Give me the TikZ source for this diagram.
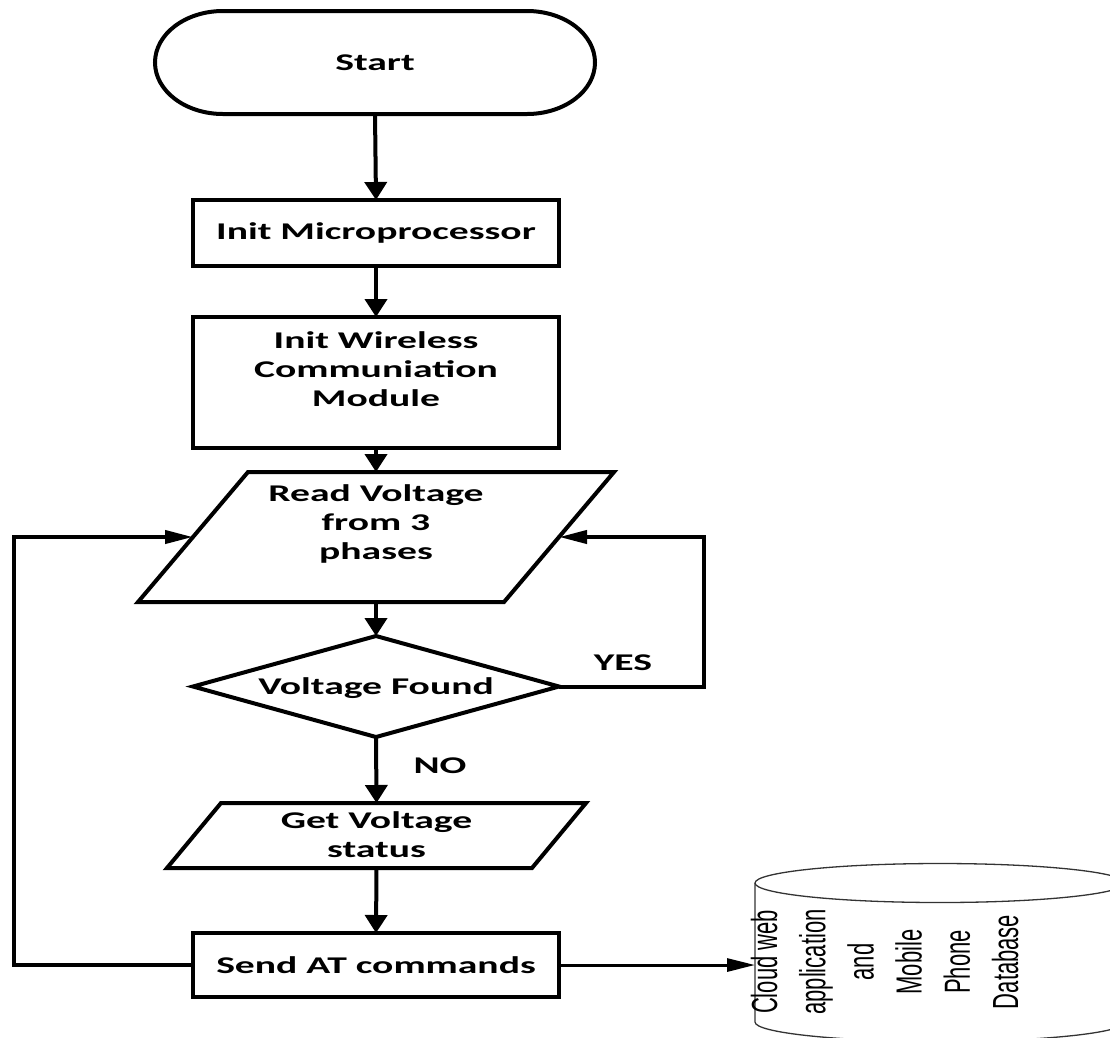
\documentclass[tikz,border=0pt]{standalone}
\usepackage{fontspec}
\setmainfont{Carlito}
\newfontfamily\dbfont{Liberation Sans}
\usepackage{graphicx}
\usetikzlibrary{shapes.geometric,arrows.meta}
\newcommand{\sx}[1]{\scalebox{1.65}[1]{#1}}
\newcommand{\mlines}[1]{\sx{\begin{tabular}{@{}c@{}}#1\end{tabular}}}
\begin{document}
\begin{tikzpicture}[x=1pt,y=-1pt,
  every node/.style={font=\bfseries\fontsize{24}{29}\selectfont, inner sep=0pt, outer sep=0pt},
  ln/.style={line width=4pt},
  box/.style={draw, ln, rectangle, minimum width=366pt},
  dec/.style={draw, ln, diamond, aspect=3.6, minimum width=366pt, minimum height=101pt},
  varr/.style={ln, -{Triangle[length=18pt,width=22pt]}},
  harr/.style={ln, -{Triangle[length=28pt,width=13pt]}},
  dbl/.style={line width=1.3pt, draw=black!80}]
\useasboundingbox (0,0) rectangle (1110,1037);

% Start terminator
\node[minimum width=440pt, minimum height=103pt] (start) at (375,62.5) {\sx{Start}};
\draw[ln] ([xshift=68pt]start.north west) -- ([xshift=-68pt]start.north east)
  arc[start angle=90, end angle=-90, x radius=68pt, y radius=51.5pt]
  -- ([xshift=68pt]start.south west)
  arc[start angle=270, end angle=90, x radius=68pt, y radius=51.5pt] -- cycle;

\node[box, minimum height=66pt] (micro) at (376,233) {\sx{Init Microprocessor}};
\node[box, minimum height=131pt] (wire) at (376,382.5) {};
\node (wiretxt) at (376,372) {\mlines{Init Wireless\\Communiation\\Module}};

% Read Voltage (parallelogram; node box = its mid-width)
\node[minimum width=366pt, minimum height=130pt] (read) at (376,537) {};
\draw[ln] ([xshift=55pt]read.north west) -- ([xshift=55pt]read.north east)
  -- ([xshift=-55pt]read.south east) -- ([xshift=-55pt]read.south west) -- cycle;
\node (readtxt) at (376,525) {\mlines{Read Voltage\\from 3\\phases}};

\node[dec] (found) at (376,686.5) {};
\node (foundtxt) at (376,688) {\sx{Voltage Found}};

% Get Voltage status (parallelogram)
\node[minimum width=365pt, minimum height=65pt] (getv) at (376.5,835.5) {};
\draw[ln] ([xshift=27pt]getv.north west) -- ([xshift=27pt]getv.north east)
  -- ([xshift=-27pt]getv.south east) -- ([xshift=-27pt]getv.south west) -- cycle;
\node (getvtxt) at (376.5,837) {\mlines{Get Voltage\\status}};

\node[box, minimum height=64pt] (send) at (376,965) {\sx{Send AT commands}};

\node (yes) at (623,663) {\sx{YES}};
\node (no) at (440,766) {\sx{NO}};

% Database cylinder (clipped at picture edge)
\node[minimum width=370pt, minimum height=139pt] (db) at (940,952.5) {};
\begin{scope}
\clip (0,0) rectangle (1110,1037);
\draw[dbl, fill=white] (db.north west) -- (db.south west)
  arc[start angle=180, end angle=360, x radius=185pt, y radius=19.5pt]
  -- (db.north east);
\draw[dbl] (db.north) ellipse[x radius=185pt, y radius=19.5pt];
\end{scope}
\node[rotate=90, font=\dbfont\fontsize{22}{29.2}\selectfont] (dbtext) at (888,962)
  {\scalebox{1}[1.65]{\begin{tabular}{@{}c@{}}Cloud web\\application\\and\\Mobile\\Phone\\Database\end{tabular}}};

% Connectors
\draw[varr] (start.south) -- (micro.north);
\draw[varr] (micro.south) -- (wire.north);
\draw[varr] (wire.south) -- (read.north);
\draw[varr] (read.south) -- (found.north);
\draw[varr] (found.south) -- (getv.north);
\draw[varr] (getv.south) -- (send.north);

\coordinate (rc) at (704,686.5);
\draw[harr] (found.east) -- (rc) |- (read.east);
\coordinate (lc) at (14,965);
\draw[harr] (send.west) -- (lc) |- (read.west);
\draw[harr, line width=3pt] (send.east) -- (send.east -| db.west);
\end{tikzpicture}
\end{document}
